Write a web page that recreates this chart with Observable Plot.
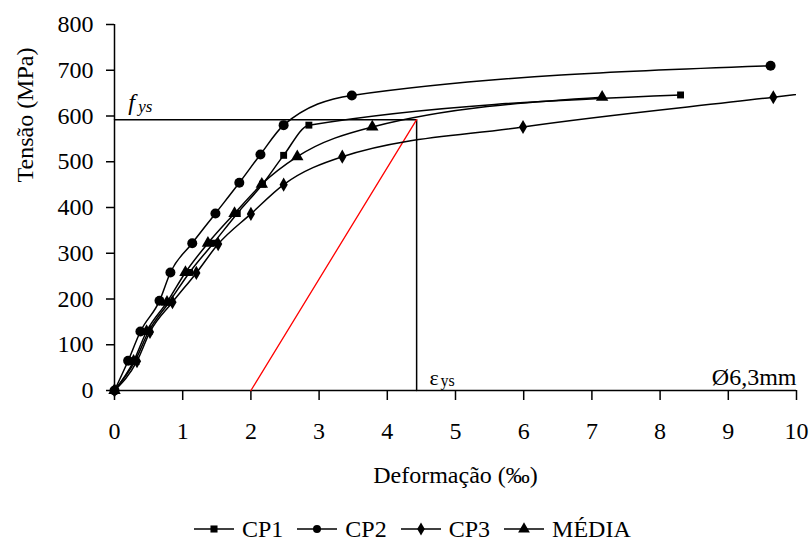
<!DOCTYPE html>
<html>
<head>
<meta charset="utf-8">
<script src="https://cdn.jsdelivr.net/npm/d3@7"></script>
<script src="https://cdn.jsdelivr.net/npm/@observablehq/plot@0.6"></script>
<style>
  html, body { margin: 0; padding: 0; background: #fff; }
  #wrap { position: relative; width: 810px; height: 544px; overflow: hidden; background: #fff;
          font-family: "Liberation Serif", "Times New Roman", serif; color: #000; }
  #chart svg, #chart svg text { font-family: "Liberation Serif", "Times New Roman", serif !important; }
  #legend { position: absolute; left: 0; top: 513px; height: 32px; display: flex; align-items: center;
            padding-left: 194px; font-size: 24px; line-height: 32px; white-space: nowrap; }
  .item { display: flex; align-items: center; margin-right: 14px; }
  .item svg { margin-right: 8px; }
</style>
</head>
<body>
<div id="wrap"><div id="chart"></div><div id="legend"></div></div>
<script>
// ---- data ----
const seriesNames = ["CP1", "CP2", "CP3", "MÉDIA"];
const seriesSymbols = ["square", "circle", "diamond", "triangle"];

const cp1Strain = [0, 0.30, 0.50, 0.80, 1.10, 1.45, 1.80, 2.17, 2.48, 2.85, 8.30];
const cp1Stress = [0, 64, 129, 193, 258, 322, 387, 451, 514, 580, 646];

const cp2Strain = [0, 0.20, 0.38, 0.66, 0.82, 1.14, 1.48, 1.83, 2.14, 2.48, 3.48, 9.62];
const cp2Stress = [0, 65, 129, 196, 258, 322, 387, 454, 516, 580, 645, 710];

const cp3Strain = [0, 0.33, 0.52, 0.85, 1.20, 1.52, 2.00, 2.48, 3.34, 5.99, 9.66, 10.50];
const cp3Stress = [0, 64, 128, 193, 257, 320, 386, 450, 511, 576, 641, 656];

const mediaStrain = [0, 0.28, 0.47, 0.77, 1.04, 1.37, 1.76, 2.16, 2.68, 3.78, 7.15];
const mediaStress = [0, 64, 129, 193, 258, 322, 387, 451, 511, 576, 641];

const fys = 592;          // yield stress (MPa)
const eys = 4.43;         // yield strain (‰)
const offsetStart = 2;    // 0.2 % offset line start (‰)

const xTicks = [0, 1, 2, 3, 4, 5, 6, 7, 8, 9, 10];
const yTicks = [0, 100, 200, 300, 400, 500, 600, 700, 800];

const xLabel = "Deformação (‰)";
const yLabel = "Tensão (MPa)";
const diameterLabel = "Ø6,3mm";

// ---- build tables ----
const strains = [cp1Strain, cp2Strain, cp3Strain, mediaStrain];
const stresses = [cp1Stress, cp2Stress, cp3Stress, mediaStress];
const rows = [];
seriesNames.forEach((name, i) => {
  strains[i].forEach((x, j) => rows.push({series: name, symbol: seriesSymbols[i], x, y: stresses[i][j]}));
});
const visibleRows = rows.filter(d => d.x <= 10);
const yieldLines = [{x: 0, y: fys}, {x: eys, y: fys}, {x: eys, y: 0}];
const offsetLine = [{x: offsetStart, y: 0}, {x: eys, y: fys}];

const font = "Liberation Serif, Times New Roman, serif";
const symbolSize = {square: 3.9, circle: 5, diamond: 4.3, triangle: 4.6};

const marks = [
  Plot.axisX({ticks: xTicks, tickSize: 10, tickPadding: 21, label: null, tickFormat: d => String(d), strokeWidth: 1.5, fontFamily: font}),
  Plot.axisY({ticks: yTicks, tickSize: 8, tickPadding: 13, label: null, tickFormat: d => String(d), strokeWidth: 1.5, fontFamily: font}),
  Plot.ruleX([0], {stroke: "#000", strokeWidth: 1.5}),
  Plot.ruleY([0], {stroke: "#000", strokeWidth: 1.5}),
  Plot.line(yieldLines, {x: "x", y: "y", stroke: "#000", strokeWidth: 1.5}),
  Plot.line(offsetLine, {x: "x", y: "y", stroke: "#ff0000", strokeWidth: 1.3}),
  Plot.line(rows, {x: "x", y: "y", z: "series", stroke: "#000", strokeWidth: 1.5, curve: "monotone-x", clip: true})
];
seriesSymbols.forEach((s, i) => {
  marks.push(Plot.dot(visibleRows.filter(d => d.series === seriesNames[i]),
    {x: "x", y: "y", symbol: s, r: symbolSize[s], fill: "#000", stroke: "none"}));
});
marks.push(
  Plot.text(["f"], {x: 0.2, y: 630, text: d => d, textAnchor: "start", fontStyle: "italic", fontSize: 24, fontFamily: font}),
  Plot.text(["ys"], {x: 0.2, y: 630, text: d => d, textAnchor: "start", fontStyle: "italic", fontSize: 17, dx: 10, dy: 4, fontFamily: font}),
  Plot.text(["ε"], {x: 4.62, y: 28, text: d => d, textAnchor: "start", fontSize: 22, fontFamily: font}),
  Plot.text(["ys"], {x: 4.62, y: 28, text: d => d, textAnchor: "start", fontSize: 16, dx: 11, dy: 3, fontFamily: font}),
  Plot.text([diameterLabel], {x: 10, y: 28, text: d => d, textAnchor: "end", fontSize: 24, fontFamily: font}),
  Plot.text([xLabel], {frameAnchor: "bottom", dy: 92, text: d => d, fontSize: 24, fontFamily: font}),
  Plot.text([yLabel], {frameAnchor: "left", rotate: -90, dx: -89, dy: -25, text: d => d, fontSize: 24, fontFamily: font, fill: "#000"})
);

const chart = Plot.plot({
  width: 810,
  height: 505,
  marginLeft: 114,
  marginRight: 14,
  marginTop: 24,
  marginBottom: 115,
  style: {fontFamily: font, fontSize: "24px", color: "#000", background: "#fff", overflow: "visible"},
  x: {domain: [0, 10]},
  y: {domain: [0, 800]},
  marks
});
document.getElementById("chart").appendChild(chart);

// ---- legend ----
const legend = d3.select("#legend");
const d3Symbols = {square: d3.symbolSquare, circle: d3.symbolCircle, diamond: d3.symbolDiamond, triangle: d3.symbolTriangle};
const legendSize = {square: 50, circle: 50, diamond: 50, triangle: 60};
seriesNames.forEach((name, i) => {
  const item = legend.append("div").attr("class", "item");
  const svg = item.append("svg").attr("width", 40).attr("height", 16);
  svg.append("line").attr("x1", 0).attr("x2", 40).attr("y1", 8).attr("y2", 8).attr("stroke", "#000").attr("stroke-width", 1.5);
  const s = seriesSymbols[i];
  svg.append("path").attr("transform", "translate(20,8)")
     .attr("d", d3.symbol(d3Symbols[s], legendSize[s])()).attr("fill", "#000");
  item.append("span").text(name);
});
</script>
</body>
</html>
